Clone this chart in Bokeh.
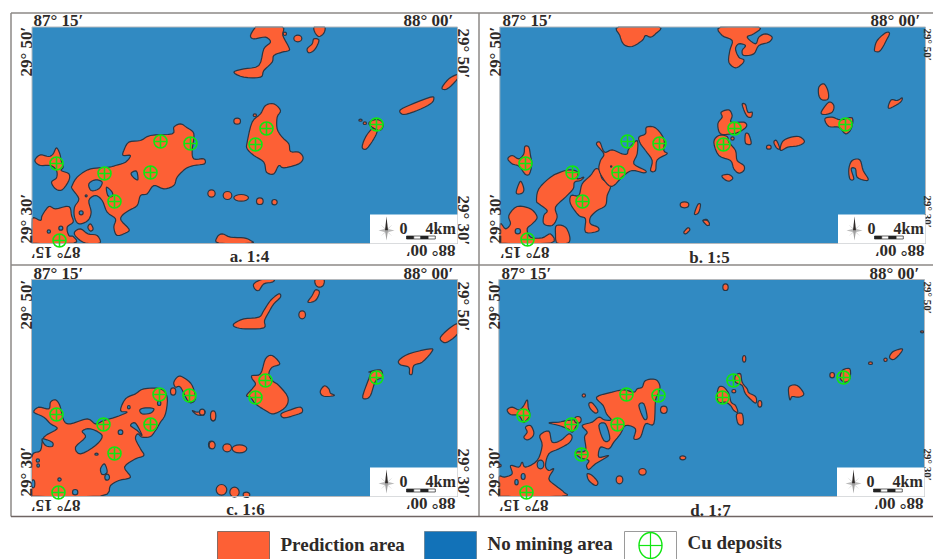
from math import pi
from bokeh.plotting import figure
from bokeh.models import Range1d
from bokeh.core.properties import value
from bokeh.embed import file_html
from bokeh.resources import INLINE

A_LAND = [
 (0,120,[(215,195),(230,170),(262,148),(295,142),(325,140),(345,135),(375,125),(390,105),(368,105),(370,90),(385,65),(420,60),(450,45),(515,40),(520,20),(540,10),(560,22),(578,35),(580,55),(575,90),(580,115),(610,115),(612,130),(580,135),(555,145),(530,170),(520,195),(490,205),(460,195),(440,220),(420,225),(410,255),(385,270),(365,285),(362,300),(385,325),(380,335),(350,345),(340,320),(345,295),(320,275),(305,240),(285,225),(265,240),(272,275),(262,300),(235,310),(222,290),(222,260),(235,235),(215,205)]),
 (0,120,[(105,115),(120,103),(145,108),(158,100),(168,82),(178,100),(182,120),(188,140),(182,150),(205,160),(205,180),(185,208),(165,205),(153,185),(168,172),(168,150),(150,135),(120,135),(105,125)]),
 (0,120,[(95,295),(120,300),(125,285),(145,258),(165,265),(205,258),(213,285),(218,305),(200,320),(205,345),(218,348),(220,368),(95,368)]),
 (0,120,[(222,335),(240,325),(262,340),(290,345),(298,368),(255,368),(228,350)]),
 (0,120,[(262,320),(270,310),(278,325),(270,332)]),
 (0,120,[(650,350),(665,340),(690,350),(730,352),(750,360),(752,368),(655,368)]),
 (200,0,[(150,105),(165,80),(175,79),(245,79),(247,105),(265,140),(265,150),(245,155),(220,165),(215,185),(190,210),(180,230),(130,230),(100,215),(130,205),(175,195),(190,145),(210,125),(195,110),(160,115)]),
 (200,0,[(342,79),(372,79),(370,98),(355,108),(343,95)]),
 (200,0,[(320,145),(335,130),(340,115),(355,118),(350,135),(340,150),(325,157)]),
 (200,0,[(725,260),(745,235),(771,222),(771,235),(745,262),(730,267)]),
 (200,0,[(598,330),(625,315),(690,290),(700,295),(690,310),(650,330),(610,342)]),
 (240,80,[(20,185),(35,125),(60,100),(75,75),(100,70),(120,90),(110,110),(110,145),(125,170),(145,190),(150,213),(175,215),(188,232),(175,250),(130,262),(115,255),(100,280),(78,275),(70,245),(40,225),(20,205)]),
 (240,80,[(365,200),(375,170),(395,145),(410,150),(400,175),(378,205)]),
 (240,80,[(385,128),(400,118),(420,120),(428,135),(418,150),(395,140)]),
]
A_OVALS = [(0,120,633,219,11,11),(0,120,681,225,13,12),(0,120,722,232,22,10),(240,80,58,362,10,10),(240,80,102,365,8,8),
 (200,0,253,100,5,5),(200,0,292,114,12,10),(200,0,110,362,10,9),(200,0,163,344,5,4),(240,80,360,119,5,3),(240,80,373,128,5,4)]
A_HOLES = [(0,120,[(265,190),(285,178),(305,185),(295,205),(272,210)]),(0,120,[(392,158),(408,152),(412,178),(398,170)]),(0,120,[(318,200),(335,215),(335,228),(322,225)])]
A_HOLE_OVALS = [(0,120,242,277,6,6),(0,120,145,333,5,5),(0,120,181,323,6,6),(0,120,257,226,3,3)]
A_DEPOSITS_X = [56,104,114,150,160,190,59,266,255,376]
A_DEPOSITS_Y = [163,173,201,172,141,143,240,128,144,124]

B_LAND = [
 (480,120,[(82,115),(95,105),(115,115),(130,100),(133,78),(145,80),(150,105),(154,130),(147,160),(135,162),(122,145),(112,135),(95,130)]),
 (480,120,[(108,210),(120,182),(130,205),(125,218),(110,220)]),
 (480,120,[(168,240),(175,205),(210,170),(240,155),(268,148),(292,155),(290,175),(310,170),(300,180),(282,185),(278,205),(255,230),(225,260),(230,290),(215,315),(190,310),(190,285),(200,270),(175,250)]),
 (480,120,[(272,225),(295,225),(305,190),(330,165),(345,145),(358,150),(365,175),(390,195),(380,225),(375,255),(350,270),(330,290),(330,310),(352,320),(352,332),(315,335),(315,295),(295,285),(270,250)]),
 (480,120,[(348,72),(358,65),(372,95),(395,88),(425,100),(440,100),(445,85),(470,60),(470,100),(460,130),(495,150),(490,157),(455,150),(430,165),(415,180),(400,195),(385,195),(365,170),(355,145),(360,120),(370,100)]),
 (480,120,[(475,50),(495,40),(498,20),(525,22),(550,55),(550,90),(560,100),(530,118),(525,150),(510,150),(515,120),(495,90),(480,70)]),
 (480,120,[(59,310),(75,325),(90,310),(85,285),(110,258),(150,265),(170,290),(155,310),(140,325),(150,350),(185,352),(210,340),(210,368),(59,368)]),
 (480,120,[(228,315),(255,320),(268,350),(262,368),(230,368),(225,340)]),
 (480,120,[(642,278),(652,252),(660,252),(655,275),(646,282)]),
 (480,120,[(668,300),(680,297),(686,315),(675,308)]),
 (480,120,[(610,335),(622,322),(628,328),(616,340)]),
 (480,0,[(415,79),(535,79),(525,100),(510,110),(495,105),(485,120),(455,138),(430,132),(418,105)]),
 (700,0,[(60,80),(175,80),(160,100),(140,110),(165,130),(175,110),(195,100),(215,110),(205,125),(175,135),(160,160),(130,165),(125,150),(135,135),(115,130),(105,145),(115,170),(130,178),(125,190),(105,202),(85,185),(88,150),(95,120),(65,105)]),
 (700,0,[(522,145),(530,120),(555,97),(567,98),(560,115),(540,150),(525,153)]),
 (700,0,[(355,285),(355,260),(370,250),(382,270),(383,295),(365,298)]),
 (700,0,[(362,335),(385,305),(400,315),(395,335),(372,342)]),
 (700,0,[(373,355),(395,350),(420,358),(455,352),(452,385),(435,400),(415,380),(385,378)]),
 (700,0,[(563,320),(572,298),(590,300),(605,292),(600,305),(572,322)]),
 (700,0,[(62,335),(85,328),(95,345),(92,365),(130,365),(138,378),(115,395),(92,400),(60,400),(52,370),(65,350)]),
 (700,0,[(40,425),(55,405),(80,408),(85,425),(105,450),(110,480),(130,495),(130,510),(115,518),(100,505),(90,480),(55,465)]),
 (700,0,[(125,312),(135,312),(142,335),(155,335),(152,350),(138,345)]),
 (700,0,[(135,400),(145,402),(152,430),(135,428)]),
 (700,0,[(220,425),(228,420),(238,445),(228,442)]),
 (700,0,[(245,425),(265,412),(295,408),(312,423),(295,435),(262,440),(240,450)]),
 (700,0,[(65,525),(85,522),(97,533),(85,542),(70,535)]),
 (700,0,[(445,505),(455,480),(478,478),(488,510),(503,535),(495,540),(470,530),(465,505),(452,505),(460,535),(448,535)]),
 (700,0,[(7,660),(20,660),(27,670),(20,675)]),
]
B_OVALS = [(480,120,612,253,13,9),(700,0,96,414,5,5),(700,0,205,440,7,6)]
B_HOLES = []
B_HOLE_OVALS = [(480,120,112,332,8,8),(480,120,392,138,2,2)]
B_DEPOSITS_X = [525,572,582,618,627,659,527,734,723,845]
B_DEPOSITS_Y = [163,172,201,172,141,143,239,128,144,124]

C_LAND = [
 (0,370,[(100,125),(115,110),(145,115),(150,95),(165,88),(178,105),(190,150),(210,160),(260,145),(285,160),(310,150),(345,140),(380,125),(360,120),(375,85),(405,70),(430,55),(480,55),(500,80),(495,130),(480,155),(465,180),(450,198),(425,200),(412,190),(405,205),(420,235),(430,255),(405,265),(372,290),(390,320),(355,330),(330,345),(300,377),(93,377),(93,260),(120,240),(130,200),(170,175),(150,160),(130,140)]),
 (0,370,[(520,35),(535,17),(555,25),(575,45),(585,85),(565,95),(540,50),(525,50)]),
 (0,370,[(575,120),(590,125),(612,120),(610,133),(590,133)]),
 (200,270,[(160,40),(185,27),(220,27),(215,35),(190,40),(175,60),(163,55)]),
 (200,270,[(345,27),(370,27),(368,45),(355,50),(345,42)]),
 (200,270,[(322,95),(335,75),(345,58),(357,65),(345,90)]),
 (200,270,[(100,160),(130,145),(175,140),(190,120),(210,90),(235,70),(240,80),(220,100),(205,125),(192,150),(190,172),(135,175),(105,170)]),
 (200,270,[(155,315),(180,310),(195,265),(215,255),(238,280),(215,290),(205,310),(215,330),(235,345),(262,380),(255,410),(220,430),(195,420),(165,400),(150,380),(138,375),(155,355),(165,340),(155,325)]),
 (200,270,[(242,430),(270,418),(300,410),(305,425),(280,435),(250,442)]),
 (200,270,[(360,360),(372,346),(385,355),(390,368),(402,375),(375,378),(362,372)]),
 (200,270,[(487,375),(510,310),(505,305),(540,298),(545,320),(525,332),(510,375),(495,385)]),
 (200,270,[(595,270),(625,250),(690,235),(693,245),(665,275),(640,285),(635,310),(627,310),(625,290),(600,283)]),
 (200,270,[(720,200),(745,175),(771,160),(771,190),(740,215),(725,213)]),
]
C_OVALS = [(0,370,518,63,8,11),(0,370,638,137,7,14),(0,370,633,223,9,11),(200,270,80,532,13,12),(200,270,117,535,22,12),(200,270,35,524,9,11),(200,270,38,436,8,15),(200,270,5,425,8,9),(200,270,63,658,16,16),(200,270,102,665,14,15),(200,270,138,673,10,8),(200,270,305,133,10,12)]
C_HOLES = [(0,370,[(225,230),(255,200),(245,182),(270,175),(305,195),(285,225),(240,250)]),(0,370,[(418,118),(435,112),(460,115),(450,128),(425,130)]),(0,370,[(390,165),(405,158),(425,195),(410,180)]),(0,370,[(300,295),(312,280),(320,305),(305,312)]),(0,370,[(125,205),(155,215),(155,228),(135,225)])]
C_HOLE_OVALS = [(0,370,360,185,7,7),(0,370,288,251,5,3),(0,370,320,320,7,9),(0,370,177,327,5,5),(0,370,224,365,8,8),(0,370,112,270,5,5),(0,370,113,285,4,5),(0,370,385,110,4,5),(0,370,476,98,5,7),(0,370,98,340,5,12)]
C_DEPOSITS_X = [56,103,114,150,159,189,58,265,255,376]
C_DEPOSITS_Y = [414,424,453,424,394,395,492,380,397,377]

D_LAND = [
 (480,370,[(80,118),(95,110),(115,118),(128,108),(140,88),(143,110),(148,135),(135,152),(128,155),(115,135),(90,132)]),
 (480,370,[(135,170),(150,165),(160,185),(155,200),(140,208),(130,200),(140,185)]),
 (480,370,[(55,320),(72,320),(95,310),(90,285),(115,290),(125,275),(135,290),(170,270),(185,225),(178,195),(205,182),(215,215),(240,210),(265,190),(275,200),(265,218),(235,235),(205,250),(195,285),(205,300),(220,295),(205,325),(225,345),(250,365),(245,377),(55,377)]),
 (480,370,[(205,157),(235,155),(260,150),(290,150),(285,170),(275,185),(262,175),(235,165)]),
 (480,370,[(305,165),(335,155),(355,140),(372,148),(392,148),(378,130),(368,105),(348,80),(395,65),(430,58),(460,65),(470,55),(485,50),(495,30),(525,27),(538,45),(535,65),(525,90),(520,160),(495,160),(480,200),(460,205),(465,175),(435,165),(420,190),(400,215),(385,235),(360,230),(355,260),(385,255),(345,280),(325,297),(318,285),(325,270),(300,262),(285,245),(315,240),(312,200),(320,185)]),
 (480,370,[(325,100),(335,97),(352,120),(345,128),(330,115)]),
 (480,370,[(320,310),(335,315),(352,335),(345,345),(325,330)]),
 (700,270,[(55,350),(70,350),(85,370),(92,395),(105,405),(112,425),(100,420),(90,405),(75,395),(55,395),(50,375)]),
 (700,270,[(105,315),(120,310),(125,335),(140,355),(145,367),(165,378),(168,395),(160,395),(135,370),(125,345),(105,335)]),
 (700,270,[(108,432),(125,430),(128,460),(113,460)]),
 (700,270,[(265,350),(290,345),(310,370),(295,380),(275,378),(268,388)]),
 (700,270,[(425,300),(448,295),(448,325),(435,335),(420,325)]),
 (700,270,[(567,260),(578,243),(605,235),(600,248),(580,267)]),
]
D_OVALS = [(480,370,310,75,5,5),(480,370,292,148,10,10),(480,370,550,118,10,11),(480,370,607,262,9,6),(480,370,486,304,11,10),(480,370,417,328,10,12),(480,370,58,285,4,4),
 (700,270,75,50,8,10),(700,270,131,265,5,10),(700,270,100,362,6,5),(700,270,178,400,6,10),(700,270,395,314,7,8),(700,270,510,278,6,4),(700,270,555,268,5,5),(700,270,665,184,5,3)]
D_HOLES = [(480,370,[(355,165),(375,160),(388,205),(370,210)]),(480,370,[(475,105),(490,100),(500,140),(490,145)])]
D_HOLE_OVALS = [(480,370,128,318,6,9),(480,370,180,282,10,13),(480,370,108,335,5,8)]
D_DEPOSITS_X = [523,571,581,617,626,658,526,733,722,843]
D_DEPOSITS_Y = [415,424,454,424,394,395,492,380,397,377]

PANEL_CAPTIONS = ["a. 1:4", "b. 1:5", "c. 1:6", "d. 1:7"]
LEGEND_LABELS = ["Prediction area", "No mining area", "Cu deposits"]
TICK_LON = ["87°  15′", "88°  00′"]
TICK_LAT = ["29°  50′", "29°  30′"]
SCALE_LABELS = ["0", "4km"]

# Layout (picture pixels)
MAPS = [(31.5, 26.5, 457, 243), (499.3, 26.5, 925, 243), (31, 279, 457, 496), (498.3, 279, 924, 496)]
SHIFT = [(0, 0), (469, 0), (0, 253), (468, 253)]
CAPTION_POS = [(249, 256), (709, 257), (245, 509), (710, 510)]
INSET_SHIFT = [(0, 0), (468, 0), (0, 253), (467, 253)]

ORANGE, BLUE, EDGE, INK, GREEN, GRID = "#fd6035", "#318ac2", "#2a3644", "#2e2a28", "#12e612", "#8c8886"
SERIF = value("Liberation Serif")

p = figure(width=933, height=559, x_range=Range1d(0, 933), y_range=Range1d(559, 0),
           output_backend="svg", toolbar_location=None, min_border=0, outline_line_color=None,
           x_axis_type=None, y_axis_type=None)
p.grid.visible = False


def spline(pts, steps=4):
    out, n = [], len(pts)
    for i in range(n):
        p0, p1, p2, p3 = pts[i - 1], pts[i], pts[(i + 1) % n], pts[(i + 2) % n]
        for k in range(steps):
            t = k / steps
            out.append(tuple(0.5 * (2 * b + (c - a) * t + (2 * a - 5 * b + 4 * c - d) * t * t + (3 * b - a - 3 * c + d) * t ** 3)
                             for a, b, c, d in zip(p0, p1, p2, p3)))
    return out


def polys(items, fill, bounds):
    x0, y0, x1, y1 = bounds
    xs, ys = [], []
    for ox, oy, pts in items:
        sm = spline(pts)
        xs.append([min(max(ox + x / 3, x0), x1) for x, _ in sm])
        ys.append([min(max(oy + y / 3, y0), y1) for _, y in sm])
    if xs:
        p.patches(xs, ys, fill_color=fill, line_color=EDGE, line_width=1.2)


def ovals(items, fill):
    p.ellipse([o[0] + o[2] / 3 for o in items], [o[1] + o[3] / 3 for o in items],
              width=[2 * o[4] / 3 for o in items], height=[2 * o[5] / 3 for o in items],
              fill_color=fill, line_color=EDGE, line_width=1.2)


def txt(x, y, s, size, angle=0.0, align="left", base="middle", color=INK):
    p.text([x], [y], text=[s], text_font=SERIF, text_font_size=f"{size}px", text_font_style="bold",
           angle=angle, text_align=align, text_baseline=base, text_color=color)


# frame lines
p.segment([10.5, 10.5, 10.5, 478.5], [12.5, 264.5, 12.5, 12.5], [933, 933, 10.5, 478.5], [12.5, 264.5, 516, 516],
          line_color=GRID, line_width=1.5)
p.segment([10.5], [516], [933], [516], line_color="#6f6563", line_width=1.5)

lands = [A_LAND, B_LAND, C_LAND, D_LAND]
land_ovals = [A_OVALS, B_OVALS, C_OVALS, D_OVALS]
holes = [A_HOLES, B_HOLES, C_HOLES, D_HOLES]
hole_ovals = [A_HOLE_OVALS, B_HOLE_OVALS, C_HOLE_OVALS, D_HOLE_OVALS]
dep_x = [A_DEPOSITS_X, B_DEPOSITS_X, C_DEPOSITS_X, D_DEPOSITS_X]
dep_y = [A_DEPOSITS_Y, B_DEPOSITS_Y, C_DEPOSITS_Y, D_DEPOSITS_Y]

for i, (x0, y0, x1, y1) in enumerate(MAPS):
    p.quad(left=[x0], right=[x1], top=[y0], bottom=[y1], fill_color=BLUE, line_color=None)
    polys(lands[i], ORANGE, MAPS[i])
    ovals(land_ovals[i], ORANGE)
    polys(holes[i], BLUE, MAPS[i])
    ovals(hole_ovals[i], BLUE)
    p.quad(left=[x0], right=[x1], top=[y0], bottom=[y1], fill_color=None, line_color="#b4b8bc", line_width=1)

    sx, sy = SHIFT[i]
    txt(33 + sx, 20 + sy, TICK_LON[0], 17)
    txt(403 + sx - (2 if i % 2 else 0), 20 + sy, TICK_LON[1], 17)
    txt(80 + sx, 252 + sy, TICK_LON[0], 17, angle=pi)
    txt(455 + sx, 250 + sy, TICK_LON[1], 17, angle=pi)
    txt(26 + sx, 76 + sy, TICK_LAT[0], 17, angle=pi / 2)
    txt(26 + sx, 243 + sy, TICK_LAT[1], 17, angle=pi / 2)
    rx_lab = 927 if i % 2 else 463
    rs_lab = 11 if i % 2 else 17
    txt(rx_lab, 28 + sy, TICK_LAT[0], rs_lab, angle=-pi / 2)
    txt(rx_lab, 195 + sy, TICK_LAT[1], rs_lab, angle=-pi / 2)

    cx, cy = CAPTION_POS[i]
    txt(cx, cy, PANEL_CAPTIONS[i], 17, align="center")

    # scale inset
    ix, iy = INSET_SHIFT[i]
    p.quad(left=[369.5 + ix], right=[x1], top=[214 + iy], bottom=[y1], fill_color="white", line_color=None)
    rx, ry = 386 + ix, 230 + iy
    p.patches([[rx - 8, rx, rx + 8, rx], [rx - 6, rx, rx + 6, rx], [rx - 6, rx, rx + 6, rx]],
              [[ry, ry - 2, ry, ry + 2], [ry + 6, ry, ry + 6, ry + 1], [ry - 6, ry, ry - 6, ry - 1]],
              fill_color="#b9b9b9", line_color=None)
    p.patches([[rx - 1.5, rx, rx + 1.5], [rx - 1.5, rx, rx + 1.5]],
              [[ry, ry - 14, ry], [ry, ry + 10, ry]], fill_color=[INK, "#a0a0a0"], line_color=None)
    txt(403 + ix, 228 + iy, SCALE_LABELS[0], 16, align="center")
    txt(425 + ix, 228 + iy, SCALE_LABELS[1], 16)
    p.quad(left=[406 + ix + 7.2 * k for k in range(4)], right=[406 + ix + 7.2 * (k + 1) for k in range(4)],
           top=[235.5 + iy] * 4, bottom=[238.5 + iy] * 4,
           fill_color=["#222222", "white", "#222222", "white"], line_color="#222222", line_width=0.7)

    # deposits
    p.scatter(dep_x[i], dep_y[i], marker="circle_cross", size=13, fill_color=None, line_color=GREEN, line_width=1.6)

# legend
p.quad(left=[217, 424, 624], right=[269, 476, 676], top=[531, 531, 531], bottom=[559, 559, 559],
       fill_color=[ORANGE, "#1272b8", "white"], line_color=["#8a6a60", "#6a8aa0", "#9a9a9a"], line_width=1)
p.ellipse([650], [545], width=[23], height=[26], fill_color=None, line_color=GREEN, line_width=1.4)
p.segment([638.5, 650], [545, 532], [661.5, 650], [545, 558], line_color=GREEN, line_width=1.2)
txt(280, 544, LEGEND_LABELS[0], 19)
txt(487, 543, LEGEND_LABELS[1], 19)
txt(687, 542, LEGEND_LABELS[2], 19)

open("out.html", "w").write(file_html(p, INLINE))
